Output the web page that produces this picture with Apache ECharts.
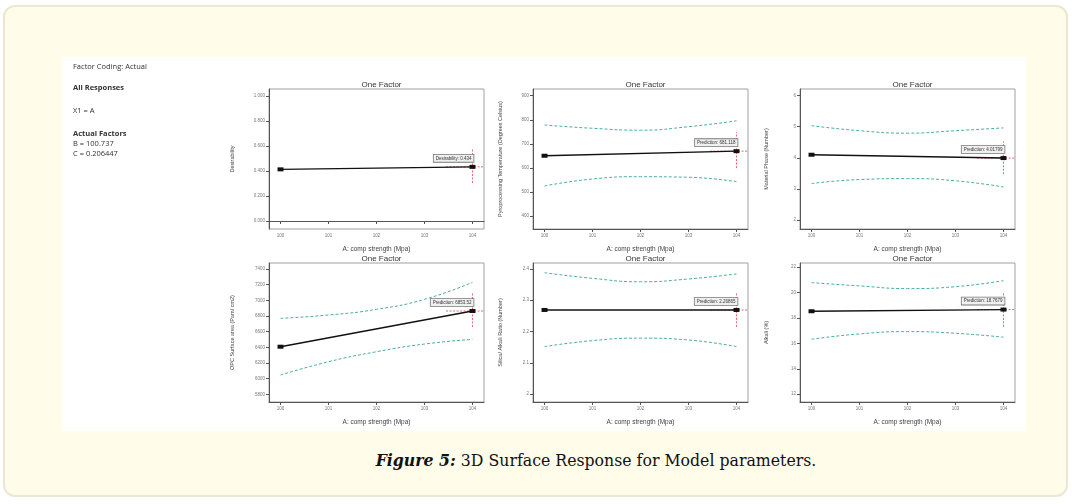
<!DOCTYPE html>
<html>
<head>
<meta charset="utf-8">
<script src="https://cdn.jsdelivr.net/npm/echarts@6/dist/echarts.min.js"></script>
<style>
  html, body { margin:0; padding:0; width:1072px; height:504px; background:#ffffff; overflow:hidden; }
  #frame { position:absolute; left:3px; top:5px; width:1061px; height:488px; border:2px solid #ece7d3; border-radius:12px; background:#fffce9; }
  #chart { position:absolute; left:62px; top:57px; width:964px; height:374px; background:#ffffff; }
  #caption { position:absolute; left:0; width:1192px; top:450px; text-align:center; font-family:"DejaVu Serif Condensed","Liberation Serif",serif; font-size:17.5px; color:#111; }
  #caption b { font-style:italic; }
</style>
</head>
<body>
<div id="frame"></div>
<div id="chart"></div>
<div id="caption"><b>Figure 5:</b> 3D Surface Response for Model parameters.</div>
<script>
// ---------- data ----------
const xTicks = [100, 101, 102, 103, 104];           // A: comp strength (Mpa)
const xEnds = [100, 104];

const panelTitles = ['One Factor','One Factor','One Factor','One Factor','One Factor','One Factor'];
const yNames = ['Desirability', 'Pyroprocessing Temperature (Degrees Celsius)', 'Material Phase (Number)',
                'OPC Surface area (Pam/ cm2)', 'Silica/ Alkali Ratio (Number)', 'Alkali (%)'];
const predLabels = ['Desirability: 0.434', 'Prediction: 681.118', 'Prediction: 4.01799',
                    'Prediction: 6853.52', 'Prediction: 2.26865', 'Prediction: 18.7679'];

// y ticks
const yTicks1 = [0, 0.2, 0.4, 0.6, 0.8, 1.0];
const yTicks2 = [400, 500, 600, 700, 800, 900];
const yTicks3 = [2, 3, 4, 5, 6];
const yTicks4 = [5800, 6000, 6200, 6400, 6600, 6800, 7000, 7200, 7400];
const yTicks5 = [2, 2.1, 2.2, 2.3, 2.4];
const yTicks6 = [12, 14, 16, 18, 20, 22];
const yDecimals = [3, 0, 0, 0, 1, 0];

// y ranges of the frames
const yMin = [-0.064, 347, 1.71, 5702, 1.975, 11.39];
const yMax = [1.058, 928, 6.21, 7477, 2.419, 22.31];

// predicted response at A = 100 and A = 104
const pred1 = [0.414, 0.434];
const pred2 = [651, 670];
const pred3 = [4.097, 3.99];
const pred4 = [6408, 6864];
const pred5 = [2.269, 2.269];
const pred6 = [18.52, 18.65];

// confidence bands at A = 100..104
const upper2 = [778.5, 765, 757, 771.5, 796];
const lower2 = [525.6, 554.6, 564, 561.7, 543.5];
const upper3 = [5.03, 4.87, 4.79, 4.87, 4.96];
const lower3 = [3.17, 3.30, 3.33, 3.26, 3.06];
const upper4 = [6770, 6813, 6885, 7013, 7230];
const lower4 = [6047, 6216, 6344, 6442, 6502];
const upper5 = [2.388, 2.370, 2.359, 2.368, 2.384];
const lower5 = [2.152, 2.171, 2.179, 2.173, 2.152];
const upper6 = [20.77, 20.51, 20.30, 20.45, 20.92];
const lower6 = [16.32, 16.74, 16.92, 16.79, 16.48];

// red cross-hair at the current factor setting: vertical extent (low, high)
const cross1 = [0.305, 0.577];
const cross2 = [600, 749];
const cross3 = [3.47, 4.52];
const cross4 = [6660, 7094];
const cross5 = [2.215, 2.323];
const cross6 = [17.29, 20.04];
const crossStartX = 103.45;
const xMin = 99.76, xMax = 104.24;

// ---------- build ----------
const yTicks = [yTicks1, yTicks2, yTicks3, yTicks4, yTicks5, yTicks6];
const preds = [pred1, pred2, pred3, pred4, pred5, pred6];
const uppers = [null, upper2, upper3, upper4, upper5, upper6];
const lowers = [null, lower2, lower3, lower4, lower5, lower6];
const crosses = [cross1, cross2, cross3, cross4, cross5, cross6];

const colLeft = [207, 471, 738];
const colW = 215;
const rowTop = [32, 206];
const rowH = [140, 139];
const nameGaps = [34, 30, 31, 34, 30, 31];

const FONT = 'Liberation Sans';
const grids = [], xAxes = [], yAxes = [], titles = [], series = [];

for (let i = 0; i < 6; i++) {
  const r = Math.floor(i / 3), c = i % 3;
  grids.push({ left: colLeft[c], top: rowTop[r], width: colW, height: rowH[r],
               show: true, borderColor: '#a0a0a0', borderWidth: 1, backgroundColor: 'transparent' });
  titles.push({ text: panelTitles[i], left: colLeft[c] + colW / 2, top: rowTop[r] - 13, textAlign: 'center',
                textStyle: { fontFamily: FONT, fontSize: 8, fontWeight: 'normal', color: '#333' } });
  xAxes.push({ type: 'value', gridIndex: i, min: xMin, max: xMax,
               name: 'A: comp strength (Mpa)', nameLocation: 'middle', nameGap: 17,
               nameTextStyle: { fontFamily: FONT, fontSize: 6.5, color: '#444' },
               axisLine: { show: true, lineStyle: { color: '#555', width: 1 } },
               axisTick: { show: true, length: 3, customValues: xTicks, lineStyle: { color: '#555' } },
               axisLabel: { show: true, customValues: xTicks, fontFamily: FONT, fontSize: 4.5, color: '#777', margin: 4 },
               splitLine: { show: false } });
  const dec = yDecimals[i];
  yAxes.push({ type: 'value', gridIndex: i, min: yMin[i], max: yMax[i],
               name: yNames[i], nameLocation: 'middle', nameGap: nameGaps[i], nameRotate: 90,
               nameTextStyle: { fontFamily: FONT, fontSize: 5.5, color: '#444' },
               axisLine: { show: true, lineStyle: { color: '#555', width: 1 } },
               axisTick: { show: true, length: 3, customValues: yTicks[i], lineStyle: { color: '#555' } },
               axisLabel: { show: true, customValues: yTicks[i], fontFamily: FONT, fontSize: 4.5, color: '#777', margin: 4,
                            formatter: v => (dec === 1 && Math.abs(v - Math.round(v)) < 1e-9) ? String(Math.round(v)) : v.toFixed(dec) },
               splitLine: { show: false } });

  if (uppers[i]) {
    [uppers[i], lowers[i]].forEach(arr => {
      series.push({ type: 'line', xAxisIndex: i, yAxisIndex: i, smooth: true, symbol: 'none', silent: true,
                    data: xTicks.map((x, k) => [x, arr[k]]),
                    lineStyle: { color: '#4aaea4', width: 1, type: [3, 2] }, z: 2 });
    });
  }
  // red cross-hair
  const p = preds[i], cr = crosses[i];
  series.push({ type: 'line', xAxisIndex: i, yAxisIndex: i, symbol: 'none', silent: true,
                data: [[xEnds[1], cr[0]], [xEnds[1], cr[1]]],
                lineStyle: { color: '#e8374a', width: 0.8, type: [2, 1.5] }, z: 3 });
  series.push({ type: 'line', xAxisIndex: i, yAxisIndex: i, symbol: 'none', silent: true,
                data: [[crossStartX, p[1]], [xMax, p[1]]],
                lineStyle: { color: '#e8374a', width: 0.8, type: [2, 1.5] }, z: 3 });
  // predicted line
  series.push({ type: 'line', xAxisIndex: i, yAxisIndex: i, silent: true,
                symbol: 'rect', symbolSize: [6, 4], showAllSymbol: true,
                itemStyle: { color: '#111' },
                lineStyle: { color: '#111', width: 1.4 },
                data: [
                  [xEnds[0], p[0]],
                  { value: [xEnds[1], p[1]],
                    label: { show: true, formatter: predLabels[i], position: [4, -3], align: 'right', verticalAlign: 'bottom',
                             fontFamily: FONT, fontSize: 4.5, color: '#333', backgroundColor: '#f0f0f0',
                             borderColor: '#777', borderWidth: 0.8, padding: [1, 2, 1, 2] } }
                ], z: 5 });
}

const leftText = [
  { t: 'Factor Coding: Actual', y: 11, bold: false },
  { t: 'All Responses', y: 32, bold: true },
  { t: 'X1 = A', y: 55, bold: false },
  { t: 'Actual Factors', y: 78, bold: true },
  { t: 'B = 100.737', y: 88, bold: false },
  { t: 'C = 0.206447', y: 97.5, bold: false }
];

const chart = echarts.init(document.getElementById('chart'), null, { renderer: 'canvas' });
chart.setOption({
  animation: false,
  backgroundColor: '#ffffff',
  title: titles,
  grid: grids,
  xAxis: xAxes,
  yAxis: yAxes,
  series: series,
  graphic: leftText.map(o => ({
    type: 'text', left: 11, top: o.y - 5,
    style: { text: o.t, fontFamily: 'Open Sans', fontSize: 7.5, fontWeight: o.bold ? 'bold' : 'normal', fill: '#333' }
  }))
});
</script>
</body>
</html>
